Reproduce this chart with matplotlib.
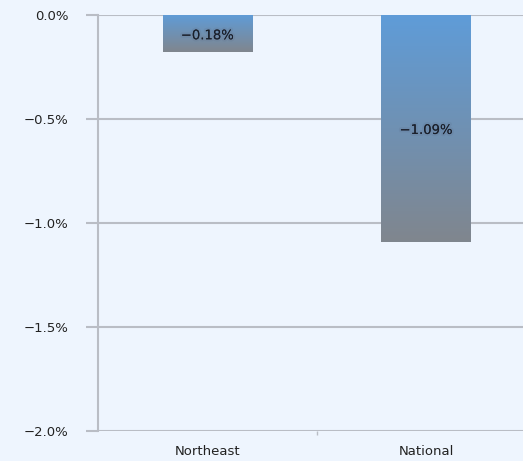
import numpy as np
import matplotlib.pyplot as plt
from matplotlib.colors import LinearSegmentedColormap
import matplotlib.patheffects as pe

categories = ["Northeast", "National"]
values = [-0.18, -1.09]
labels = ["\u22120.18%", "\u22121.09%"]
yticks = [0.0, -0.5, -1.0, -1.5, -2.0]
ytick_labels = ["0.0%", "\u22120.5%", "\u22121.0%", "\u22121.5%", "\u22122.0%"]

bg = "#eef5fe"
grid_c = "#b9bdc5"

fig = plt.figure(figsize=(5.23, 4.61), dpi=100, facecolor=bg)
ax = fig.add_axes([0.1874, 0.0651, 0.8365, 0.9024], facecolor=bg)

x = np.arange(len(categories))
bars = ax.bar(x, values, width=0.41, color="none", zorder=3)

# vertical gradient blue -> grey inside each bar
cmap = LinearSegmentedColormap.from_list("grad", ["#5f9cd8", "#80868e"])
grad = np.linspace(0, 1, 256).reshape(-1, 1)
for b in bars:
    x0, y0 = b.get_x(), b.get_y()
    w, h = b.get_width(), b.get_height()
    im = ax.imshow(grad, cmap=cmap, aspect="auto", zorder=3,
                   extent=[x0, x0 + w, y0 + h, y0], origin="upper")
    im.set_clip_path(b)

for xi, v, lab in zip(x, values, labels):
    ax.text(xi, v / 2 - 0.01, lab, ha="center", va="center", fontsize=9.5,
            color="#1a1f2a", zorder=4,
            path_effects=[pe.withStroke(linewidth=3, foreground=(0.35, 0.4, 0.5, 0.15))])

ax.set_xlim(-0.5, 1.5)
ax.set_ylim(-2.0, 0.0)
ax.set_yticks(yticks)
ax.set_yticklabels(ytick_labels)
ax.set_xticks(x)
ax.set_xticklabels(categories)
ax.set_xticks([0.5], minor=True)
ax.yaxis.grid(True, color=grid_c, linewidth=1.5, zorder=0)
ax.set_axisbelow(True)

for s in ["top", "right", "bottom"]:
    ax.spines[s].set_visible(False)
ax.spines["left"].set_color(grid_c)
ax.spines["left"].set_linewidth(1.5)
ax.tick_params(axis="y", length=9, width=1.5, color=grid_c, labelsize=9.5, pad=12, labelcolor="#222222")
ax.tick_params(axis="x", which="major", length=0, labelsize=9.5, pad=10, labelcolor="#222222")
ax.tick_params(axis="x", which="minor", length=3, width=1, color=grid_c, pad=0)

fig.savefig("out.png", dpi=100, facecolor=bg)
